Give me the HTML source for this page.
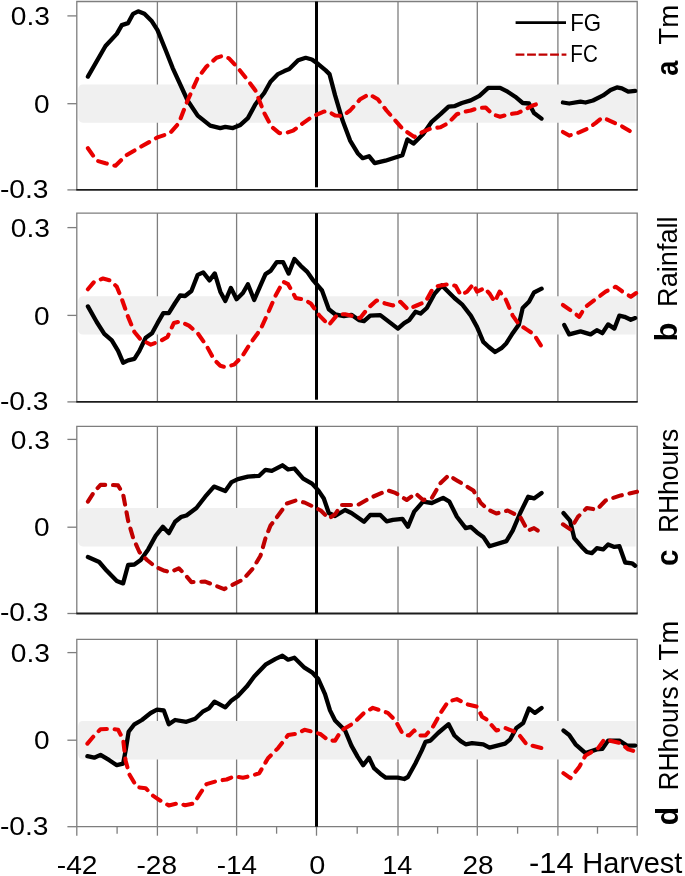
<!DOCTYPE html>
<html><head><meta charset="utf-8"><title>Correlation chart</title>
<style>
html,body{margin:0;padding:0;background:#fff;}
svg{display:block;}
text{font-family:"Liberation Sans",sans-serif;fill:#000;}
.k{fill:none;stroke:#000;stroke-width:4.3;stroke-linejoin:round;stroke-linecap:round;}
.r{fill:none;stroke-width:4.1;stroke-linejoin:round;stroke-linecap:round;stroke-dasharray:9 7.8;}
.g{stroke:#7e7e7e;stroke-width:1.3;fill:none;}
</style></head><body>
<svg width="685" height="876" viewBox="0 0 685 876">
<rect width="685" height="876" fill="#fff"/>
<g>
<line class="g" x1="157.4" y1="1.5" x2="157.4" y2="189.9"/>
<line class="g" x1="236.6" y1="1.5" x2="236.6" y2="189.9"/>
<line class="g" x1="398.0" y1="1.5" x2="398.0" y2="189.9"/>
<line class="g" x1="477.3" y1="1.5" x2="477.3" y2="189.9"/>
<line class="g" x1="557.9" y1="1.5" x2="557.9" y2="189.9"/>
<path d="M83,84.4 H635.6 V122.7 H83 Q78.3,122.7 78.3,117.3 V89.8 Q78.3,84.4 83,84.4 Z" fill="#f0f0f0"/>
<path class="g" d="M76.8,189.9 V1.5 H637.2 V189.9"/>
<line class="g" x1="67.4" y1="15.9" x2="76.8" y2="15.9"/>
<line class="g" x1="67.4" y1="103.7" x2="76.8" y2="103.7"/>
<line class="g" x1="67.4" y1="189.9" x2="76.8" y2="189.9"/>
<line x1="76.3" y1="189.9" x2="637.7" y2="189.9" stroke="#1c1c1c" stroke-width="1.9"/>
<line x1="316.5" y1="1.5" x2="316.5" y2="187.3" stroke="#000" stroke-width="3"/>
<polyline class="k" points="87.9,76.6 105.5,46.0 116.8,33.9 121.8,25.1 128.1,23.1 133.1,13.8 138.1,11.3 144.4,13.8 151.9,21.3 157.5,30.1 165.7,50.2 172.6,67.8 187.6,100.5 197.7,115.6 210.2,125.6 220.3,128.1 225.3,126.9 232.9,128.1 240.4,124.9 247.9,118.1 255.4,104.3 264.2,93.0 270.5,81.7 278.0,74.1 284.3,71.1 289.3,69.1 298.1,60.3 305.7,57.8 311.9,59.5 318.2,64.1 325.7,70.4 329.5,74.1 335.1,95.4 342.6,120.6 350.1,140.6 357.7,153.2 362.7,158.2 369.0,156.2 374.7,163.2 385.3,160.7 395.3,157.5 402.4,155.2 407.4,139.4 413.4,143.6 423.0,134.3 431.7,121.8 440.5,114.2 448.6,106.7 454.3,106.2 461.9,103.0 470.7,100.4 479.4,95.9 488.2,87.9 500.1,87.9 507.6,91.7 515.2,96.7 522.7,103.0 529.0,103.5 534.0,113.0 541.5,118.6"/>
<polyline class="k" points="562.9,102.5 569.2,103.5 580.5,101.7 585.5,102.5 593.0,100.5 603.1,95.4 610.6,89.9 616.9,87.4 621.9,88.4 628.2,91.7 635.2,90.9"/>
<polyline class="r" stroke="#e80000" points="87.9,148.2 96.7,160.7 105.5,163.2 115.5,165.8 125.6,155.7 140.6,146.9 157.5,137.4 170.0,133.1 178.8,123.1 187.6,100.5 197.7,77.9 206.5,66.6 216.5,57.8 222.8,55.8 229.0,58.3 237.8,67.8 247.9,80.4 255.4,90.4 264.2,113.0 271.7,126.9 279.3,133.1 285.6,133.1 293.1,130.6 303.1,123.1 313.2,116.0 323.2,111.8 327.5,111.0 335.1,115.5 342.6,116.0 350.1,110.5 360.2,99.2 369.0,94.2 377.8,99.2 386.5,110.5 395.3,120.5 402.9,129.3 414.2,136.9 423.0,131.8 431.7,128.1 440.5,127.3 448.1,123.1 456.8,114.3 464.4,111.8 470.7,110.5 478.2,108.0 485.7,107.5 492.6,114.3 500.1,116.8 508.9,114.3 517.7,113.0 525.2,109.3 532.8,105.5 541.5,102.5"/>
<polyline class="r" stroke="#e80000" points="562.9,131.9 569.2,135.6 579.2,132.4 588.0,128.6 595.5,123.1 602.3,117.5 610.6,121.1 620.7,125.6 633.2,133.1"/>
<text x="10.74" y="25.0" font-size="26.2" textLength="39.16" lengthAdjust="spacingAndGlyphs">0.3</text>
<text x="33.95" y="112.8" font-size="26.2" textLength="15.60" lengthAdjust="spacingAndGlyphs">0</text>
<text x="-0.13" y="197.8" font-size="26.2" textLength="48.62" lengthAdjust="spacingAndGlyphs">-0.3</text>
</g>
<g>
<line class="g" x1="157.4" y1="213.1" x2="157.4" y2="401.9"/>
<line class="g" x1="236.6" y1="213.1" x2="236.6" y2="401.9"/>
<line class="g" x1="398.0" y1="213.1" x2="398.0" y2="401.9"/>
<line class="g" x1="477.3" y1="213.1" x2="477.3" y2="401.9"/>
<line class="g" x1="557.9" y1="213.1" x2="557.9" y2="401.9"/>
<path d="M83,296.3 H635.6 V334.6 H83 Q78.3,334.6 78.3,329.2 V301.7 Q78.3,296.3 83,296.3 Z" fill="#f0f0f0"/>
<path class="g" d="M76.8,401.9 V213.1 H637.2 V401.9"/>
<line class="g" x1="67.4" y1="227.6" x2="76.8" y2="227.6"/>
<line class="g" x1="67.4" y1="315.4" x2="76.8" y2="315.4"/>
<line class="g" x1="67.4" y1="401.9" x2="76.8" y2="401.9"/>
<line x1="76.3" y1="401.9" x2="637.7" y2="401.9" stroke="#1c1c1c" stroke-width="1.9"/>
<line x1="316.5" y1="213.1" x2="316.5" y2="399.7" stroke="#000" stroke-width="3"/>
<polyline class="k" points="87.9,306.4 96.7,322.0 104.3,333.8 111.8,340.3 118.1,350.9 123.1,362.7 128.1,360.4 134.4,358.9 139.4,350.9 145.7,337.8 152.0,333.3 157.5,323.2 163.3,313.2 168.8,313.1 175.1,303.0 180.1,295.5 185.1,296.0 191.4,291.0 197.7,274.9 203.2,272.4 209.5,280.4 214.8,273.4 220.3,291.7 225.3,301.0 230.9,287.9 236.6,299.2 242.9,293.0 247.9,284.2 254.2,300.0 260.5,285.4 265.5,274.1 270.5,270.9 276.8,262.1 283.1,262.1 288.6,273.6 294.4,259.0 300.7,265.8 307.0,271.6 313.3,280.4 322.0,290.5 328.8,309.3 335.1,314.3 343.9,316.1 351.4,314.8 358.9,320.1 364.0,321.1 370.2,315.6 380.3,315.1 389.1,321.9 397.9,328.6 404.2,323.1 409.2,320.1 415.5,311.8 420.5,313.6 426.8,308.0 434.3,294.2 441.9,285.4 446.9,290.5 454.4,298.0 462.0,304.3 470.8,315.6 477.0,326.9 483.3,341.9 488.8,347.0 495.1,352.0 501.4,348.2 506.4,343.2 512.7,333.2 518.9,324.4 522.7,308.0 529.0,301.8 534.0,292.5 541.6,288.7"/>
<polyline class="k" points="564.2,324.9 569.2,334.4 580.5,331.4 590.6,334.4 596.8,330.2 602.4,333.2 608.1,324.4 614.4,328.6 619.4,315.6 624.5,316.8 630.8,319.8 635.2,318.1"/>
<polyline class="r" stroke="#e80000" points="87.9,289.3 94.2,281.8 103.0,278.5 110.6,280.5 116.8,286.8 121.9,299.3 128.1,316.9 134.4,332.0 140.7,339.5 150.8,344.6 160.8,340.8 167.5,336.9 173.8,323.1 180.1,321.4 188.9,325.6 197.7,333.2 206.5,345.7 214.0,359.5 220.3,365.8 225.3,367.1 234.1,364.6 241.7,357.0 250.5,343.2 260.5,329.4 268.0,313.1 275.6,295.5 283.1,281.7 288.1,284.2 295.7,298.0 304.5,299.7 310.8,303.5 319.5,315.6 328.8,325.1 337.6,314.3 345.1,314.3 352.7,316.1 360.2,318.1 367.7,308.5 376.5,300.5 385.3,303.5 392.9,305.5 400.4,301.8 407.9,309.3 416.7,305.5 425.5,301.8 431.8,290.5 438.1,285.9 448.1,284.2 455.7,285.9 460.7,295.0 467.0,291.7 473.3,284.2 477.0,291.7 484.6,288.0 490.0,294.2 494.6,301.8 499.6,291.7 505.1,298.0 512.7,315.6 518.9,324.4 526.5,329.4 534.0,334.4 541.0,345.7"/>
<polyline class="r" stroke="#e80000" points="562.9,305.0 571.7,311.1 579.2,316.8 585.5,306.8 595.6,299.2 605.6,291.7 615.7,286.7 624.5,293.0 630.8,296.7 637.0,292.5"/>
<text x="10.74" y="236.7" font-size="26.2" textLength="39.16" lengthAdjust="spacingAndGlyphs">0.3</text>
<text x="33.95" y="324.5" font-size="26.2" textLength="15.60" lengthAdjust="spacingAndGlyphs">0</text>
<text x="-0.13" y="409.8" font-size="26.2" textLength="48.62" lengthAdjust="spacingAndGlyphs">-0.3</text>
</g>
<g>
<line class="g" x1="157.4" y1="426.4" x2="157.4" y2="613.5"/>
<line class="g" x1="236.6" y1="426.4" x2="236.6" y2="613.5"/>
<line class="g" x1="398.0" y1="426.4" x2="398.0" y2="613.5"/>
<line class="g" x1="477.3" y1="426.4" x2="477.3" y2="613.5"/>
<line class="g" x1="557.9" y1="426.4" x2="557.9" y2="613.5"/>
<path d="M83,508.0 H635.6 V546.4 H83 Q78.3,546.4 78.3,541.0 V513.4 Q78.3,508.0 83,508.0 Z" fill="#f0f0f0"/>
<path class="g" d="M76.8,613.5 V426.4 H637.2 V613.5"/>
<line class="g" x1="67.4" y1="439.4" x2="76.8" y2="439.4"/>
<line class="g" x1="67.4" y1="527.2" x2="76.8" y2="527.2"/>
<line class="g" x1="67.4" y1="613.5" x2="76.8" y2="613.5"/>
<line x1="76.3" y1="613.5" x2="637.7" y2="613.5" stroke="#1c1c1c" stroke-width="1.9"/>
<line x1="316.5" y1="426.4" x2="316.5" y2="613.5" stroke="#000" stroke-width="3"/>
<polyline class="k" points="87.9,557.0 99.2,562.0 106.8,570.8 116.8,580.9 123.1,583.4 128.1,565.0 134.4,564.5 140.7,560.0 148.2,549.4 155.8,535.6 162.8,526.8 168.8,533.1 175.1,521.8 181.4,516.8 186.4,515.5 196.4,508.0 205.2,496.7 214.0,486.6 225.3,491.1 231.6,482.1 237.9,479.1 247.9,476.6 259.2,475.8 265.5,469.8 271.8,470.8 282.4,465.3 288.1,469.5 294.4,468.5 303.2,478.6 312.0,483.6 318.3,490.4 323.8,498.5 328.8,513.0 335.1,516.0 345.1,510.0 351.4,513.0 364.0,521.8 370.2,515.0 380.3,515.0 386.6,521.3 392.9,519.8 402.4,518.8 407.9,526.8 414.2,511.7 423.0,501.7 431.8,503.0 443.1,497.9 449.4,501.7 456.9,516.8 465.7,528.1 470.8,526.8 477.0,532.4 483.3,536.9 489.5,546.2 506.4,541.1 512.7,530.6 520.2,513.0 528.2,496.7 534.0,498.4 541.6,492.9"/>
<polyline class="k" points="563.4,513.0 570.0,520.6 574.2,538.1 581.8,546.9 586.8,552.0 591.8,553.2 596.8,548.2 603.1,549.4 608.1,544.4 614.4,546.9 619.4,546.2 625.2,562.5 632.0,563.3 635.2,565.8"/>
<polyline class="r" stroke="#c00000" points="87.9,501.7 94.2,491.7 100.5,484.9 110.6,484.9 118.1,485.4 123.1,494.2 128.1,520.6 133.2,538.1 139.4,552.0 147.0,560.0 155.8,567.0 164.6,570.8 170.0,572.1 178.8,568.3 185.1,574.6 191.4,582.1 205.2,581.6 214.0,585.1 224.1,589.1 232.9,584.6 242.9,579.6 253.0,568.3 260.5,555.7 265.5,538.1 270.5,525.6 278.1,515.5 286.9,503.5 295.7,500.5 304.5,502.5 313.3,506.7 320.8,510.5 328.8,518.5 335.1,514.3 341.4,505.0 357.7,505.0 370.2,497.9 387.8,490.4 395.4,492.9 406.7,500.0 415.5,493.4 423.0,500.0 431.8,497.9 440.6,482.9 448.6,475.3 456.9,480.4 473.3,490.4 480.8,503.0 487.5,509.2 496.3,513.5 507.6,510.5 520.2,516.8 527.7,530.6 534.0,528.1 541.6,533.1"/>
<polyline class="r" stroke="#c00000" points="562.9,524.3 570.4,529.4 578.0,516.8 586.8,508.0 596.8,509.7 605.6,500.5 620.7,495.4 637.0,491.7"/>
<text x="10.74" y="448.5" font-size="26.2" textLength="39.16" lengthAdjust="spacingAndGlyphs">0.3</text>
<text x="33.95" y="536.3" font-size="26.2" textLength="15.60" lengthAdjust="spacingAndGlyphs">0</text>
<text x="-0.13" y="621.4" font-size="26.2" textLength="48.62" lengthAdjust="spacingAndGlyphs">-0.3</text>
</g>
<g>
<line class="g" x1="157.4" y1="639.4" x2="157.4" y2="826.7"/>
<line class="g" x1="236.6" y1="639.4" x2="236.6" y2="826.7"/>
<line class="g" x1="398.0" y1="639.4" x2="398.0" y2="826.7"/>
<line class="g" x1="477.3" y1="639.4" x2="477.3" y2="826.7"/>
<line class="g" x1="557.9" y1="639.4" x2="557.9" y2="826.7"/>
<path d="M83,721.0 H635.6 V759.4 H83 Q78.3,759.4 78.3,754.0 V726.4 Q78.3,721.0 83,721.0 Z" fill="#f0f0f0"/>
<path class="g" d="M76.8,826.7 V639.4 H637.2 V826.7"/>
<line class="g" x1="67.4" y1="652.6" x2="76.8" y2="652.6"/>
<line class="g" x1="67.4" y1="740.2" x2="76.8" y2="740.2"/>
<line class="g" x1="67.4" y1="826.7" x2="76.8" y2="826.7"/>
<line class="g" x1="76.8" y1="826.7" x2="637.7" y2="826.7"/>
<line class="g" x1="76.8" y1="826.7" x2="76.8" y2="835.7"/>
<line class="g" x1="117.1" y1="826.7" x2="117.1" y2="833.7"/>
<line class="g" x1="157.4" y1="826.7" x2="157.4" y2="835.7"/>
<line class="g" x1="197.0" y1="826.7" x2="197.0" y2="833.7"/>
<line class="g" x1="236.6" y1="826.7" x2="236.6" y2="835.7"/>
<line class="g" x1="276.6" y1="826.7" x2="276.6" y2="833.7"/>
<line class="g" x1="316.5" y1="826.7" x2="316.5" y2="835.7"/>
<line class="g" x1="357.2" y1="826.7" x2="357.2" y2="833.7"/>
<line class="g" x1="398.0" y1="826.7" x2="398.0" y2="835.7"/>
<line class="g" x1="437.6" y1="826.7" x2="437.6" y2="833.7"/>
<line class="g" x1="477.3" y1="826.7" x2="477.3" y2="835.7"/>
<line class="g" x1="517.6" y1="826.7" x2="517.6" y2="833.7"/>
<line class="g" x1="557.9" y1="826.7" x2="557.9" y2="835.7"/>
<line class="g" x1="597.5" y1="826.7" x2="597.5" y2="833.7"/>
<line class="g" x1="637.2" y1="826.7" x2="637.2" y2="835.7"/>
<line x1="316.5" y1="639.4" x2="316.5" y2="826.7" stroke="#000" stroke-width="3"/>
<polyline class="k" points="87.4,756.2 94.2,757.7 100.5,754.9 109.3,760.2 116.8,765.2 123.1,763.7 125.6,750.7 128.6,731.8 134.4,724.3 141.9,720.0 150.7,713.0 157.0,709.7 163.8,710.5 168.8,724.3 175.1,720.0 186.4,721.8 195.2,718.7 202.7,711.7 209.0,708.4 214.5,701.7 225.3,707.4 231.6,700.4 237.9,695.9 246.7,686.6 254.2,676.5 265.5,664.7 275.6,658.9 282.4,655.7 288.1,659.7 294.4,657.7 304.5,667.7 312.0,672.3 318.3,679.0 325.0,694.1 330.0,710.4 335.1,720.5 345.1,730.5 351.4,745.6 357.7,756.9 363.2,765.2 369.0,757.7 374.0,768.2 380.3,773.7 385.8,777.7 397.9,777.7 404.2,779.0 407.9,777.0 415.5,763.2 421.7,750.6 425.5,741.8 430.5,740.6 438.1,733.0 448.6,724.2 454.4,735.5 460.7,741.1 465.7,744.3 472.0,743.1 483.3,744.3 489.5,747.6 505.1,743.6 510.2,739.3 516.4,728.0 523.2,723.0 529.0,708.4 534.8,712.9 541.6,707.9"/>
<polyline class="k" points="563.4,730.5 569.2,735.0 575.5,744.3 585.5,753.1 596.8,749.4 602.4,748.9 608.1,740.6 619.4,740.6 627.0,745.6 635.2,745.6"/>
<polyline class="r" stroke="#e80000" points="87.4,743.6 94.2,735.6 100.5,729.3 110.6,728.8 118.1,729.8 123.1,739.3 125.6,760.7 129.4,774.5 136.9,787.1 145.7,788.3 153.2,795.9 160.8,800.9 168.8,805.4 177.6,803.4 185.1,805.2 193.9,803.4 200.2,793.4 206.5,784.1 217.8,780.8 226.6,779.5 234.1,776.3 242.9,777.8 253.0,775.3 259.2,773.3 268.0,758.2 278.1,748.1 288.1,735.1 296.9,733.6 304.5,729.8 313.3,731.8 320.8,734.3 328.8,740.6 335.1,740.6 341.4,730.5 353.9,723.0 364.0,712.9 372.8,707.9 387.8,712.9 395.4,720.5 402.9,734.3 409.2,735.5 414.2,730.5 419.2,735.5 425.5,735.5 433.0,726.8 440.6,712.9 448.1,701.6 456.9,699.1 467.0,704.2 477.0,706.7 482.1,716.7 486.3,719.2 496.3,730.5 505.1,728.0 517.7,733.0 526.5,744.3 541.6,748.1"/>
<polyline class="r" stroke="#e80000" points="563.4,773.2 570.4,778.2 579.2,766.9 585.5,755.6 598.1,748.1 604.4,739.3 620.7,743.1 628.2,749.4 637.0,751.9"/>
<text x="10.74" y="661.7" font-size="26.2" textLength="39.16" lengthAdjust="spacingAndGlyphs">0.3</text>
<text x="33.95" y="749.3" font-size="26.2" textLength="15.60" lengthAdjust="spacingAndGlyphs">0</text>
<text x="-0.13" y="834.6" font-size="26.2" textLength="48.62" lengthAdjust="spacingAndGlyphs">-0.3</text>
</g>
<line x1="515.6" y1="22.6" x2="566" y2="22.6" stroke="#000" stroke-width="2.9"/>
<line x1="515.6" y1="54.6" x2="566.4" y2="54.6" stroke="#c00000" stroke-width="2.4" stroke-dasharray="8.8 2.7"/>
<text x="570.19" y="30.6" font-size="24.0" textLength="30.90" lengthAdjust="spacingAndGlyphs">FG</text>
<text x="570.32" y="62.4" font-size="24.0" textLength="27.48" lengthAdjust="spacingAndGlyphs">FC</text>
<text x="56.77" y="874.2" font-size="26.2" textLength="40.79" lengthAdjust="spacingAndGlyphs">-42</text>
<text x="136.47" y="874.2" font-size="26.2" textLength="40.60" lengthAdjust="spacingAndGlyphs">-28</text>
<text x="216.68" y="874.2" font-size="26.2" textLength="40.26" lengthAdjust="spacingAndGlyphs">-14</text>
<text x="309.22" y="874.2" font-size="26.2" textLength="16.06" lengthAdjust="spacingAndGlyphs">0</text>
<text x="382.17" y="874.2" font-size="26.2" textLength="30.07" lengthAdjust="spacingAndGlyphs">14</text>
<text x="462.50" y="874.2" font-size="26.2" textLength="31.12" lengthAdjust="spacingAndGlyphs">28</text>
<text x="529.05" y="873.4" font-size="29.2" textLength="44.57" lengthAdjust="spacingAndGlyphs">-14</text>
<text x="582.34" y="873.4" font-size="29.2" textLength="100.09" lengthAdjust="spacingAndGlyphs">Harvest</text>
<text transform="translate(678.3,75.85) rotate(-90)" font-size="30.5" font-weight="bold" textLength="15.07" lengthAdjust="spacingAndGlyphs">a</text>
<text transform="translate(678.3,44.69) rotate(-90)" font-size="27.6" textLength="39.89" lengthAdjust="spacingAndGlyphs">Tm</text>
<text transform="translate(677.0,341.53) rotate(-90)" font-size="30.5" font-weight="bold" textLength="18.94" lengthAdjust="spacingAndGlyphs">b</text>
<text transform="translate(677.0,306.90) rotate(-90)" font-size="28.2" textLength="90.50" lengthAdjust="spacingAndGlyphs">Rainfall</text>
<text transform="translate(678.0,566.11) rotate(-90)" font-size="30.5" font-weight="bold" textLength="16.43" lengthAdjust="spacingAndGlyphs">c</text>
<text transform="translate(678.0,533.05) rotate(-90)" font-size="27.6" textLength="104.19" lengthAdjust="spacingAndGlyphs">RHhours</text>
<text transform="translate(678.2,825.22) rotate(-90)" font-size="30.5" font-weight="bold" textLength="18.45" lengthAdjust="spacingAndGlyphs">d</text>
<text transform="translate(678.2,790.55) rotate(-90)" font-size="27.6" textLength="104.19" lengthAdjust="spacingAndGlyphs">RHhours</text>
<text transform="translate(678.2,681.11) rotate(-90)" font-size="27.6" textLength="12.53" lengthAdjust="spacingAndGlyphs">x</text>
<text transform="translate(678.2,660.69) rotate(-90)" font-size="27.6" textLength="39.89" lengthAdjust="spacingAndGlyphs">Tm</text>
</svg>
</body></html>
